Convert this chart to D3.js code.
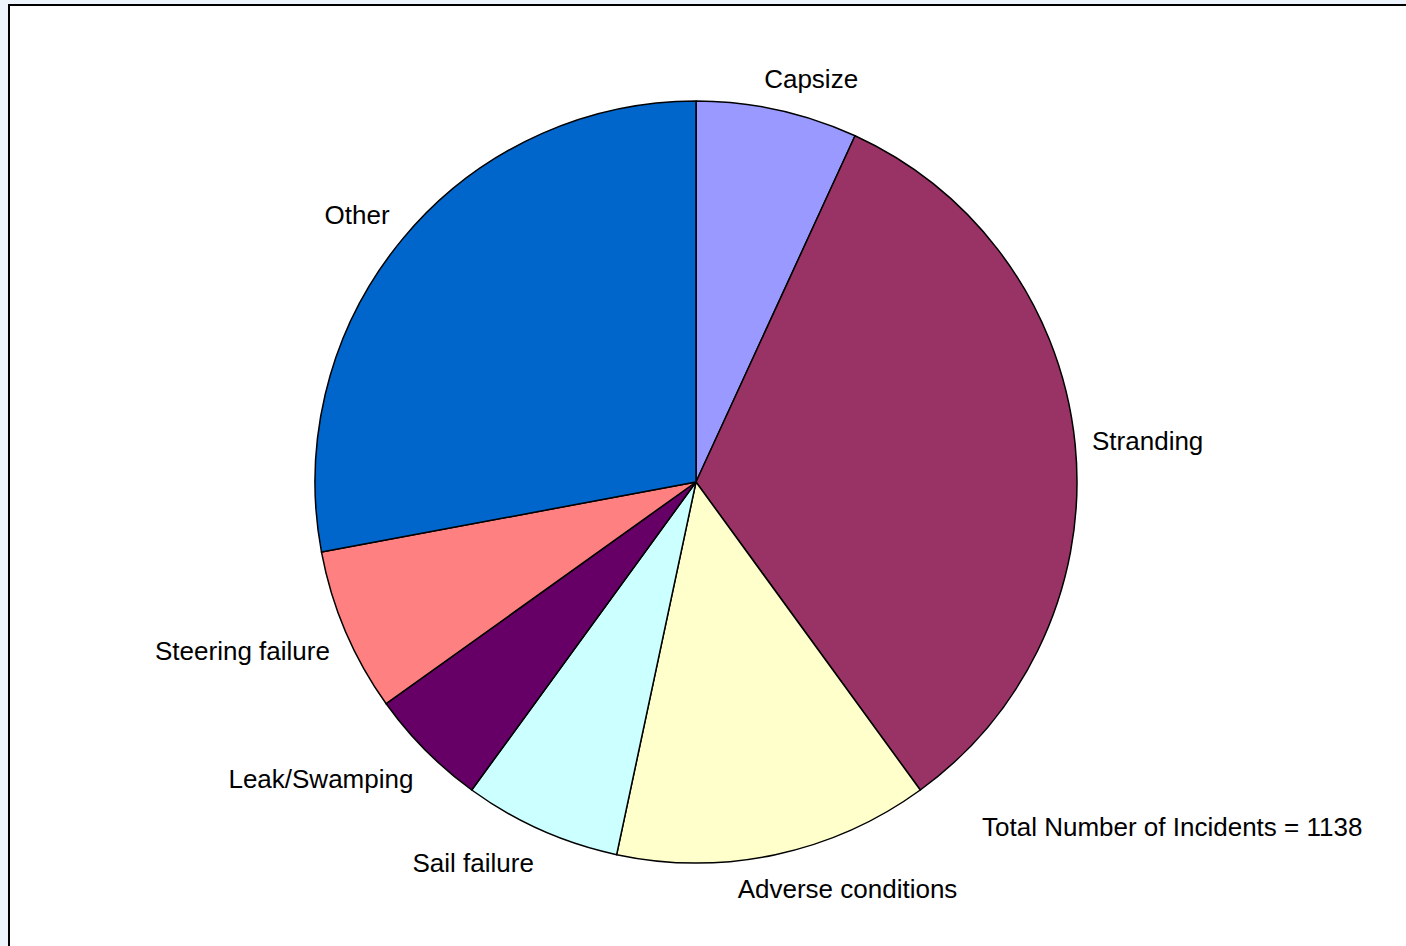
<!DOCTYPE html>
<html>
<head>
<meta charset="utf-8">
<script src="https://cdn.jsdelivr.net/npm/d3@7"></script>
<style>
  html, body { margin: 0; padding: 0; background: #eef4fc; }
  svg { display: block; }
  text { font-family: "Liberation Sans", Arial, sans-serif; font-size: 26px; fill: #000; }
</style>
</head>
<body>
<svg id="chart"></svg>
<script>
// incident categories, clockwise from 12 o'clock
var categories = ["Capsize", "Stranding", "Adverse conditions", "Sail failure",
                  "Leak/Swamping", "Steering failure", "Other"];
var counts = [78, 377, 152, 76, 58, 79, 318];
var colors = ["#9999ff", "#993366", "#ffffcc", "#ccffff", "#660066", "#ff8080", "#0066cc"];
var totalLabel = "Total Number of Incidents = " + d3.sum(counts);

var W = 1406, H = 946;
var cx = 696, cy = 482, r = 381;

var svg = d3.select("#chart").attr("width", W).attr("height", H);

// chart area with its frame
svg.append("rect")
  .attr("x", 9).attr("y", 5)
  .attr("width", W + 10).attr("height", H + 10)
  .attr("fill", "#fff")
  .attr("stroke", "#000")
  .attr("stroke-width", 2);

var g = svg.append("g").attr("transform", "translate(" + cx + "," + cy + ")");

var data = categories.map(function (c, i) { return { name: c, value: counts[i], color: colors[i] }; });

var pie = d3.pie().sort(null).value(function (d) { return d.value; });
var arc = d3.arc().innerRadius(0).outerRadius(r);
var arcs = pie(data);

g.selectAll("path.slice")
  .data(arcs)
  .enter().append("path")
    .attr("class", "slice")
    .attr("d", arc)
    .attr("fill", function (d) { return d.data.color; })
    .attr("stroke", "#000")
    .attr("stroke-width", 1.5)
    .attr("stroke-linejoin", "round");

// outside labels, box pushed away from the pie along the mid angle
var labelRx = 398, labelRy = 402;
function clamp(v) { return Math.max(-1, Math.min(1, v)); }

arcs.forEach(function (d) {
  var a = (d.startAngle + d.endAngle) / 2;
  var s = Math.sin(a), c = Math.cos(a);
  var t = g.append("text").text(d.data.name);
  var w = t.node().getBBox().width, h = 24;
  var mx = s * labelRx + clamp(s * 3) * w / 2;
  var my = -c * labelRy - clamp(c * 2) * h / 2;
  t.attr("x", mx).attr("y", my + 10.5).attr("text-anchor", "middle");
});

g.append("text")
  .attr("x", 286)
  .attr("y", 354)
  .text(totalLabel);
</script>
</body>
</html>
